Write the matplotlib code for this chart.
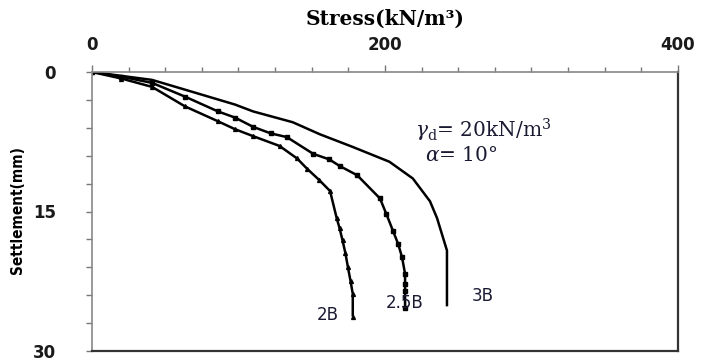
import matplotlib
matplotlib.use("Agg")
import matplotlib.pyplot as plt
from matplotlib import font_manager
from matplotlib.ticker import MultipleLocator, FixedLocator

# Data (stress, settlement mm)
stress_3b = [0, 41, 63.5, 97.6, 110, 137, 155.6, 178, 203, 219, 230.7, 235.5, 242.3, 242.3]
settle_3b = [0, 0.85, 1.9, 3.5, 4.24, 5.4, 6.7, 8.06, 9.65, 11.45, 13.9, 15.7, 19.2, 25.2]

stress_25b = [0, 20, 41, 63.5, 86, 97.6, 110, 122, 133, 151, 162, 169, 181, 196.6, 201, 205.5, 209, 211.6, 213.7, 213.7, 213.7, 213.7]
settle_25b = [0, 0.5, 1.17, 2.65, 4.24, 4.9, 5.9, 6.6, 7.0, 8.8, 9.4, 10.1, 11.1, 13.6, 15.3, 17.1, 18.5, 19.9, 21.7, 22.8, 23.6, 25.4]

stress_2b = [0, 20, 41, 63.5, 86, 97.6, 110, 128, 140, 146.8, 155, 162.5, 167, 169, 171, 173, 174.7, 176.5, 178, 178]
settle_2b = [0, 0.7, 1.6, 3.7, 5.3, 6.15, 6.9, 7.95, 9.3, 10.4, 11.6, 12.8, 15.7, 16.8, 18.1, 19.5, 21.0, 22.5, 23.85, 26.3]

x_ticks = [0, 200, 400]
y_ticks = [0, 15, 30]
curve_labels = ["2B", "2.5B", "3B"]
label_pos_x = [153.6, 200.7, 259]
label_pos_y = [26.1, 24.8, 24.1]

# pick a condensed font for the y label if one is installed
ylab_props = dict(family='DejaVu Sans', fontweight='bold', fontsize=9)
cond = [f for f in font_manager.fontManager.ttflist
        if ('Narrow' in f.name or 'Condensed' in f.name or 'condensed' in str(f.stretch)
            or f.stretch in (500, 600, 700) or (isinstance(f.stretch, int) and f.stretch < 400))]
if cond:
    pref = None
    for key in ['Liberation Sans Narrow', 'DejaVu Sans', 'Roboto Condensed', 'Open Sans Condensed', 'Noto Sans']:
        for f in cond:
            if f.name.startswith(key):
                pref = f
                break
        if pref:
            break
    if pref is None:
        pref = cond[0]
    ylab_props = dict(fontproperties=font_manager.FontProperties(fname=pref.fname, size=11, weight='bold'))

fig = plt.figure(figsize=(7.02, 3.60), dpi=100)
ax = fig.add_axes([92/702, 1-351/360, (678-92)/702, (351-72)/360])

lw = 1.8
ax.plot(stress_3b, settle_3b, color='black', lw=lw, solid_capstyle='butt')
ax.plot(stress_25b, settle_25b, color='black', lw=lw, marker='s', ms=2.8, solid_capstyle='butt')
ax.plot(stress_2b, settle_2b, color='black', lw=lw, marker='^', ms=2.8, solid_capstyle='butt')

ax.set_xlim(0, 400)
ax.set_ylim(30, 0)
ax.xaxis.tick_top()
ax.xaxis.set_label_position('top')
ax.xaxis.set_major_locator(FixedLocator(x_ticks))
ax.xaxis.set_minor_locator(MultipleLocator(25))
ax.yaxis.set_major_locator(FixedLocator(y_ticks))
ax.yaxis.set_minor_locator(MultipleLocator(3))
ax.tick_params(axis='x', which='major', direction='out', length=5, width=1, color='#777777', pad=8)
ax.tick_params(axis='x', which='minor', direction='out', length=3.5, width=1, color='#777777')
ax.tick_params(axis='y', which='both', direction='out', length=4, width=1, color='#777777', pad=22)

for lab in ax.get_xticklabels() + ax.get_yticklabels():
    lab.set_fontfamily('DejaVu Sans')
    lab.set_fontweight('bold')
    lab.set_fontsize(12)
    lab.set_color('#1a1a1a')

for side in ['top', 'left']:
    ax.spines[side].set_color('#888888')
    ax.spines[side].set_linewidth(1.2)
for side in ['right', 'bottom']:
    ax.spines[side].set_color('#333333')
    ax.spines[side].set_linewidth(1.6)

ax.set_xlabel('Stress(kN/m³)', family='DejaVu Serif', fontweight='bold', fontsize=14.5, labelpad=8)
ax.set_ylabel('Settlement(mm)', **ylab_props)
ax.yaxis.set_label_coords(-(92 - 25) / 586, 0.505)

for t, xx, yy in zip(curve_labels, label_pos_x, label_pos_y):
    ax.text(xx, yy, t, fontsize=12, family='DejaVu Sans', color='#1a1a33', ha='left', va='center')

ax.text(220.5, 6.3, r'$\gamma_\mathrm{d}$= 20kN/m$^3$', fontsize=14.5, family='DejaVu Serif',
        math_fontfamily='dejavuserif', color='#1a1a33', ha='left', va='center')
ax.text(227, 9.0, r'$\alpha$= 10°', fontsize=14.5, family='DejaVu Serif',
        math_fontfamily='dejavuserif', color='#1a1a33', ha='left', va='center')

fig.savefig('out.png', dpi=100)
